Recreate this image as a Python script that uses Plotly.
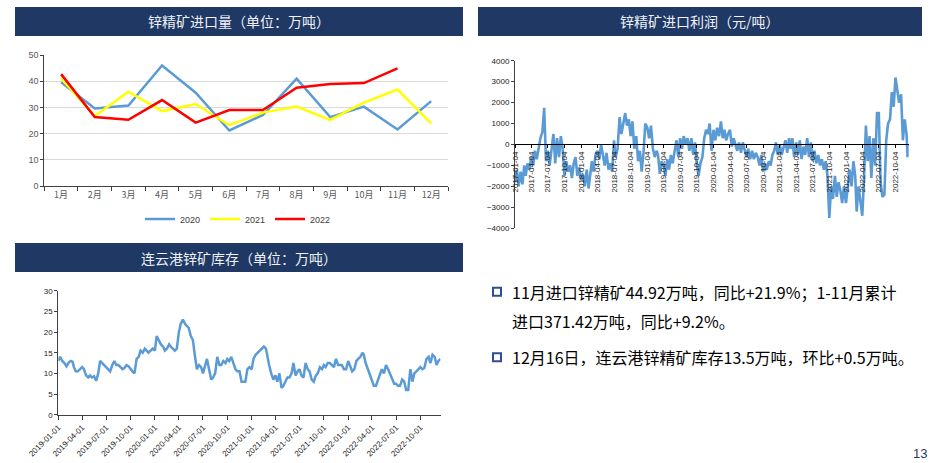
import plotly.graph_objects as go

W, H = 930, 463

# ---------------- data: chart 1 (monthly zinc concentrate imports, 万吨) ----------------
months = ["1月", "2月", "3月", "4月", "5月", "6月", "7月", "8月", "9月", "10月", "11月", "12月"]
imp_2020 = [39.6, 29.6, 30.7, 46.0, 35.6, 21.2, 27.1, 41.0, 26.3, 30.3, 21.6, 32.4]
imp_2021 = [41.1, 26.7, 36.0, 28.6, 31.3, 23.2, 28.0, 30.3, 25.2, 31.8, 36.8, 23.9]
imp_2022 = [42.7, 26.3, 25.3, 32.8, 24.2, 29.0, 29.0, 37.5, 38.9, 39.3, 44.92]

# ---------------- data: chart 2 (import profit, 元/吨), 3 readings per month ----------------
profit_vals = [
    [-1800, -1200, -2000], [-1300, -1900, -1000], [-1500, -900, -1200], [-600, -1000, -300],
    [-700, -200, 300], [600, 1750, -800], [-300, -1000, -400], [500, -900, 300],
    [-600, 400, -200], [-1500, -800, -1300], [-1000, -1600, -900], [-600, -1500, -1100],
    [-1700, -1400, -2000], [-1200, -2100, -1500], [-800, -1300, -500], [-300, -700, 0],
    [-600, -1000, -400], [-1200, -900, -1300], [200, -600, -200], [1300, 500, 1000],
    [1500, 900, 1200], [400, 1100, -200], [400, -800, -300], [-1300, -400, 1000],
    [800, 300, 900], [-200, -600, -300], [-500, -1400, -800], [-1000, -1500, -700],
    [-1200, -500, -900], [-300, 200, -600], [300, -200, 400], [0, 300, -300],
    [300, -500, 100], [-1000, -1500, -900], [-600, 300, 700], [500, 1000, -300],
    [700, 200, 800], [400, 1100, 300], [700, 200, 500], [700, -100, 300],
    [0, -300, 100], [-400, 100, -200], [-600, -200, -700], [-300, -700, -400],
    [-600, -1000, -500], [-1300, -900, -1200], [-800, -1000, -500], [-300, 100, -500],
    [0, -500, -200], [200, -400, 300], [-200, 300, -600], [100, -500, 200],
    [-700, -100, -500], [300, -600, 100], [-800, -300, -900], [-500, -1000, -700],
    [-1200, -800, -1500], [-3500, -2000, -2600], [-1500, -2500, -1800], [-2200, -2800, -2000],
    [-2800, -1800, -1200], [-2000, -800, -1500], [-3200, -2000, -2600], [-3400, -1500, 900],
    [-800, 400, -1600], [300, -1000, 1500], [1500, -1800, -2500], [-2400, 200, 1000],
    [1200, 2500, 1800], [3200, 2600, 2000], [2400, 200, 1200], [500, -600, 0],
]
profit_days = ["04", "14", "24"]
profit_last_days = ["04", "10", "16"]
profit_ticks = ["2017-01-04", "2017-04-04", "2017-07-04", "2017-10-04",
                "2018-01-04", "2018-04-04", "2018-07-04", "2018-10-04",
                "2019-01-04", "2019-04-04", "2019-07-04", "2019-10-04",
                "2020-01-04", "2020-04-04", "2020-07-04", "2020-10-04",
                "2021-01-04", "2021-04-04", "2021-07-04", "2021-10-04",
                "2022-01-04", "2022-04-04", "2022-07-04", "2022-10-04"]

# ---------------- data: chart 3 (Lianyungang zinc ore stock, 万吨), 4 readings per month ----------------
inv_vals = [
    [13.0, 14.0, 13.0, 12.5], [11.7, 12.5, 13.0, 12.8], [11.5, 10.5, 10.5, 11.0], [11.5, 11.0, 9.5, 9.0],
    [9.5, 9.0, 9.3, 8.2], [10.0, 13.0, 12.5, 12.0], [11.5, 11.0, 10.5, 12.0], [13.0, 12.0, 12.0, 11.5],
    [11.0, 11.3, 12.0, 11.7], [11.0, 10.5, 10.0, 13.5], [14.0, 15.5, 15.0, 16.0], [15.5, 15.0, 15.5, 16.0],
    [15.5, 19.0, 18.0, 17.0], [16.5, 15.5, 16.0, 17.0], [16.5, 16.0, 15.5, 16.0], [20.0, 22.0, 23.0, 22.0],
    [21.5, 21.0, 19.0, 18.0], [14.0, 11.0, 12.0, 11.5], [10.0, 12.0, 13.5, 11.0], [8.5, 9.0, 10.0, 14.0],
    [12.0, 12.0, 13.0, 12.5], [13.5, 13.0, 14.0, 12.5], [11.0, 10.5, 10.5, 8.0], [8.0, 8.0, 11.0, 11.5],
    [11.0, 13.5, 14.5, 15.0], [15.5, 16.0, 16.5, 16.0], [14.0, 12.0, 10.0, 8.5], [9.5, 8.0, 10.0, 6.5],
    [7.0, 8.0, 9.0, 9.0], [10.0, 12.5, 9.5, 10.5], [11.0, 9.5, 9.0, 12.5], [11.0, 10.5, 8.5, 8.0],
    [9.5, 10.0, 11.5, 11.0], [12.0, 11.5, 12.5, 12.5], [12.0, 11.5, 13.5, 12.0], [12.0, 12.0, 11.0, 11.0],
    [13.0, 12.0, 10.5, 11.0], [13.0, 13.5, 14.0, 15.0], [14.5, 12.5, 11.0, 9.5], [8.0, 7.0, 7.0, 8.5],
    [9.5, 11.0, 10.0, 12.0], [11.0, 10.0, 8.5, 7.5], [7.5, 7.0, 7.0, 8.5], [8.0, 6.0, 6.0, 11.0],
    [8.0, 10.0, 10.5, 11.0], [11.5, 11.0, 11.3, 13.5], [14.0, 12.5, 14.5, 14.0], [12.0, 13.0, 13.5],
]
inv_days = ["01", "08", "16", "24"]
inv_ticks = ["2019-01-01", "2019-04-01", "2019-07-01", "2019-10-01",
             "2020-01-01", "2020-04-01", "2020-07-01", "2020-10-01",
             "2021-01-01", "2021-04-01", "2021-07-01", "2021-10-01",
             "2022-01-01", "2022-04-01", "2022-07-01", "2022-10-01"]

titles = ["锌精矿进口量（单位：万吨）", "锌精矿进口利润（元/吨）", "连云港锌矿库存（单位：万吨）"]
bullet_lines = ["11月进口锌精矿44.92万吨，同比+21.9%；1-11月累计",
                "进口371.42万吨，同比+9.2%。",
                "12月16日，连云港锌精矿库存13.5万吨，环比+0.5万吨。"]

# ---------------- build date series ----------------
def month_list(y0, y1):
    return [f"{y}-{m:02d}" for y in range(y0, y1 + 1) for m in range(1, 13)]

p_months = month_list(2017, 2022)
profit_x, profit_y = [], []
for i, (mo, vals) in enumerate(zip(p_months, profit_vals)):
    days = profit_last_days if i == len(profit_vals) - 1 else profit_days
    for d, v in zip(days, vals):
        profit_x.append(f"{mo}-{d}")
        profit_y.append(v)

i_months = month_list(2019, 2022)
inv_x, inv_y = [], []
for mo, vals in zip(i_months, inv_vals):
    for d, v in zip(inv_days, vals):
        inv_x.append(f"{mo}-{d}")
        inv_y.append(v)


def px_x(p):
    return p / W


def px_y(p):
    return 1 - p / H


NAVY = "#1F3864"
BLUE = "#5B9BD5"
TICKF = dict(family="Liberation Sans, Arial, sans-serif", size=9, color="#595959")
TICKF2 = dict(family="Liberation Sans, Arial, sans-serif", size=8, color="#222222")
CJK = "Noto Sans CJK SC, Noto Sans, sans-serif"

fig = go.Figure()

# chart 1
fig.add_trace(go.Scatter(x=months, y=imp_2020, name="2020", mode="lines",
                         line=dict(color=BLUE, width=2.5), xaxis="x", yaxis="y"))
fig.add_trace(go.Scatter(x=months, y=imp_2021, name="2021", mode="lines",
                         line=dict(color="#FFFF00", width=2.5), xaxis="x", yaxis="y"))
fig.add_trace(go.Scatter(x=months[:len(imp_2022)], y=imp_2022, name="2022", mode="lines",
                         line=dict(color="#FF0000", width=2.5), xaxis="x", yaxis="y"))

# chart 2
fig.add_trace(go.Scatter(x=profit_x, y=profit_y, mode="lines", showlegend=False,
                         line=dict(color=BLUE, width=2.6), xaxis="x2", yaxis="y2"))

# chart 3
fig.add_trace(go.Scatter(x=inv_x, y=inv_y, mode="lines", showlegend=False,
                         line=dict(color=BLUE, width=2.5), xaxis="x3", yaxis="y3"))

zero_pos = px_y(144.4)

fig.update_layout(
    width=W, height=H,
    margin=dict(l=0, r=0, t=0, b=0, pad=0, autoexpand=False),
    paper_bgcolor="white", plot_bgcolor="white",
    font=dict(family=CJK),
    showlegend=True,
    legend=dict(orientation="h", x=px_x(238), y=px_y(219), xanchor="center", yanchor="middle",
                font=dict(family="Liberation Sans, Arial", size=9, color="#404040"),
                itemwidth=30, bgcolor="rgba(0,0,0,0)"),
    xaxis=dict(domain=[px_x(44.3), px_x(448)], anchor="y", type="category",
               range=[-0.5, 11.5], showline=True, linecolor="#404040", linewidth=1,
               ticks="outside", tickson="boundaries", ticklen=4, tickcolor="#404040",
               tickfont=dict(family=CJK, size=9, color="#595959"), showgrid=False,
               automargin=False),
    yaxis=dict(domain=[px_y(186), px_y(55)], anchor="x", range=[0, 50], dtick=10,
               showline=True, linecolor="#404040", linewidth=1, ticks="outside", ticklen=3,
               tickcolor="#404040", showgrid=True, gridcolor="#D9D9D9", gridwidth=1,
               zeroline=False, tickfont=TICKF, automargin=False),
    xaxis2=dict(domain=[px_x(515), px_x(908.7)], anchor="free", position=zero_pos,
                type="date", range=["2017-01-04", "2022-12-16"],
                tickvals=profit_ticks, ticktext=profit_ticks, tickangle=-90,
                showline=True, linecolor="black", linewidth=1,
                ticks="outside", ticklen=3, tickcolor="black",
                tickfont=TICKF2, showgrid=False, automargin=False),
    yaxis2=dict(domain=[px_y(228.3), px_y(60.7)], anchor="x2", range=[-4000, 4000], dtick=1000,
                showline=True, linecolor="#404040", linewidth=1, ticks="outside", ticklen=3,
                tickcolor="#404040", showgrid=False, zeroline=False, tickfont=TICKF2,
                automargin=False),
    xaxis3=dict(domain=[px_x(58.3), px_x(440.5)], anchor="y3", type="date",
                range=["2019-01-01", "2022-12-16"],
                tickvals=inv_ticks, ticktext=inv_ticks, tickangle=-45,
                showline=True, linecolor="#404040", linewidth=1,
                ticks="outside", ticklen=4, tickcolor="#404040",
                tickfont=TICKF2, showgrid=False, automargin=False),
    yaxis3=dict(domain=[px_y(414.7), px_y(290.7)], anchor="x3", range=[0, 30], dtick=5,
                showline=True, linecolor="#404040", linewidth=1, ticks="outside", ticklen=3,
                tickcolor="#404040", showgrid=False, zeroline=False, tickfont=TICKF2,
                automargin=False),
)

shapes = []
annotations = []

# header bars
headers = [((15, 7, 463, 36), titles[0]), ((478, 7, 922, 36), titles[1]), ((15, 243, 463, 272), titles[2])]
for (x0, y0, x1, y1), t in headers:
    shapes.append(dict(type="rect", xref="paper", yref="paper",
                       x0=px_x(x0), x1=px_x(x1), y0=px_y(y1), y1=px_y(y0),
                       fillcolor=NAVY, line=dict(width=0), layer="below"))
    annotations.append(dict(text=t, xref="paper", yref="paper",
                            x=px_x((x0 + x1) / 2), y=px_y((y0 + y1) / 2),
                            xanchor="center", yanchor="middle", showarrow=False,
                            font=dict(family=CJK, size=14, color="#EEF2F8")))

# bullets
bullet_pos = [(291.7, True), (320.7, False), (357.3, True)]
for line, (yc, has_box) in zip(bullet_lines, bullet_pos):
    if has_box:
        shapes.append(dict(type="rect", xref="paper", yref="paper",
                           x0=px_x(493), x1=px_x(501), y0=px_y(yc + 4), y1=px_y(yc - 4),
                           fillcolor="white", line=dict(color="#2F4F8F", width=2)))
    annotations.append(dict(text=line, xref="paper", yref="paper",
                            x=px_x(510), y=px_y(yc), xanchor="left", yanchor="middle",
                            showarrow=False, font=dict(family=CJK, size=16, color="black")))

# page number
annotations.append(dict(text="13", xref="paper", yref="paper", x=px_x(920), y=0,
                        xanchor="center", yanchor="bottom", showarrow=False,
                        font=dict(family="Liberation Sans, Arial", size=13, color="#1F3864")))

fig.update_layout(shapes=shapes, annotations=annotations)

fig.write_html("out.html")
